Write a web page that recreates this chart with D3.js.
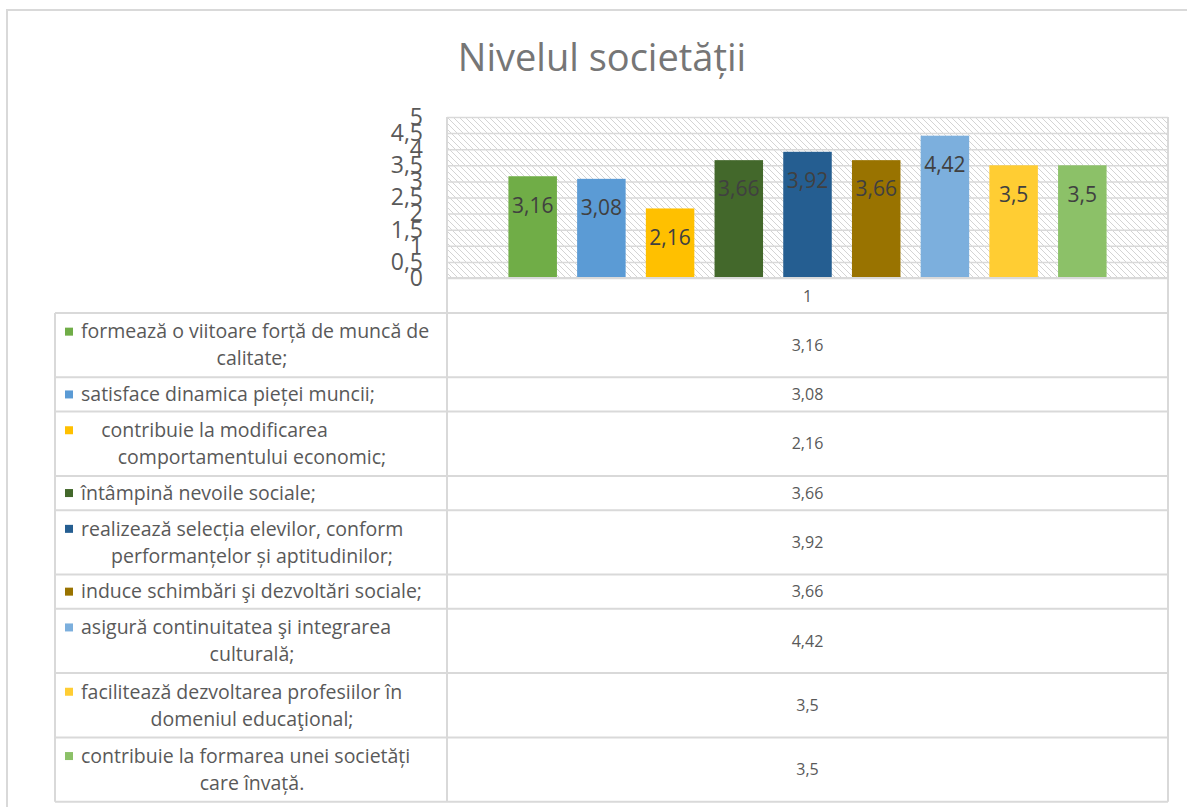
<!DOCTYPE html>
<html>
<head>
<meta charset="utf-8">
<script src="https://cdn.jsdelivr.net/npm/d3@7"></script>
<style>
  body { margin: 0; background: #fff; }
  text { font-family: "Open Sans", "Noto Sans", sans-serif; }
</style>
</head>
<body>
<div id="chart-container"></div>
<script>
// Category labels (line breaks as in the data table)
const categories = [
  "formează o viitoare forță de muncă de\ncalitate;",
  "satisface dinamica pieței muncii;",
  "    contribuie la modificarea\ncomportamentului economic;",
  "întâmpină nevoile sociale;",
  "realizează selecția elevilor, conform\nperformanțelor și aptitudinilor;",
  "induce schimbări şi dezvoltări sociale;",
  "asigură continuitatea şi integrarea\nculturală;",
  "facilitează dezvoltarea profesiilor în\ndomeniul educaţional;",
  "contribuie la formarea unei societăți\ncare învață."
];
const values = [3.16, 3.08, 2.16, 3.66, 3.92, 3.66, 4.42, 3.5, 3.5];
const colors = ["#70ad47", "#5b9bd5", "#ffc000", "#43682b", "#255e91",
                "#997300", "#7cafdd", "#ffcd33", "#8cc168"];
const yTicks = [0, 0.5, 1, 1.5, 2, 2.5, 3, 3.5, 4, 4.5, 5];
const xLabel = "1";
const title = "Nivelul societății";

function init() {
  const W = 1187, H = 807;
  const plot = { left: 447, right: 1168, top: 117, bottom: 278 };
  const tableLeft = 55;
  const headerBottom = 313;
  const fmt = d => String(d).replace(".", ",");

  const svg = d3.select("#chart-container")
    .append("svg")
      .attr("width", W)
      .attr("height", H);

  // hatch pattern for plot area
  const defs = svg.append("defs");
  defs.append("pattern")
      .attr("id", "hatch")
      .attr("patternUnits", "userSpaceOnUse")
      .attr("width", 6)
      .attr("height", 6)
    .append("path")
      .attr("d", "M0,0L6,6M-1,5L1,7M5,-1L7,1")
      .attr("stroke", "#d4d4d4")
      .attr("stroke-width", 1);

  // outer chart border
  svg.append("rect")
    .attr("x", 7).attr("y", 10)
    .attr("width", 1200).attr("height", 820)
    .attr("fill", "none")
    .attr("stroke", "#d9d9d9")
    .attr("stroke-width", 2);

  // title
  svg.append("text")
    .attr("x", 602).attr("y", 71)
    .attr("text-anchor", "middle")
    .attr("font-size", "38px")
    .attr("fill", "#767676")
    .text(title);

  const xScale = d3.scaleBand()
    .domain(d3.range(values.length))
    .range([plot.left, plot.right])
    .paddingInner(0.294)
    .paddingOuter(0.894);

  const yScale = d3.scaleLinear()
    .domain([0, 5])
    .range([plot.bottom, plot.top]);

  // plot background
  svg.append("rect")
    .attr("x", plot.left).attr("y", plot.top)
    .attr("width", plot.right - plot.left)
    .attr("height", plot.bottom - plot.top)
    .attr("fill", "url(#hatch)");

  // gridlines
  svg.append("g")
    .attr("transform", `translate(${plot.left},0)`)
    .call(d3.axisLeft(yScale).tickValues(yTicks).tickSize(-(plot.right - plot.left)).tickFormat(""))
    .call(g => g.select(".domain").remove())
    .call(g => g.selectAll("line").attr("stroke", "#d9d9d9").attr("stroke-width", 1.5));

  // y axis labels (they overlap in the original too)
  svg.append("g")
    .attr("transform", `translate(${plot.left - 24},0)`)
    .call(d3.axisLeft(yScale).tickValues(yTicks).tickSize(0).tickFormat(fmt))
    .call(g => g.select(".domain").remove())
    .call(g => g.selectAll("text")
      .attr("x", 0)
      .attr("font-family", "'Open Sans', sans-serif")
      .attr("font-size", "23px")
      .attr("fill", "#595959"));

  // bars
  svg.selectAll(".bar")
    .data(values)
    .enter()
    .append("rect")
      .attr("class", "bar")
      .attr("x", (d, i) => xScale(i))
      .attr("y", d => yScale(d))
      .attr("width", xScale.bandwidth())
      .attr("height", d => plot.bottom - yScale(d))
      .attr("fill", (d, i) => colors[i]);

  // bar labels
  svg.selectAll(".bar-label")
    .data(values)
    .enter()
    .append("text")
      .attr("class", "bar-label")
      .attr("x", (d, i) => xScale(i) + xScale.bandwidth() / 2)
      .attr("y", d => yScale(d) + 29)
      .attr("dy", "0.35em")
      .attr("text-anchor", "middle")
      .attr("font-size", "21px")
      .attr("fill", "#404040")
      .text(fmt);

  // data table
  const lineColor = "#d9d9d9";
  const rowH = categories.map(c => c.split("\n").length > 1 ? 64.3 : 34.3);
  const rowTop = [];
  rowH.reduce((acc, h) => { rowTop.push(acc); return acc + h; }, headerBottom);
  const tableBottom = rowTop[rowTop.length - 1] + rowH[rowH.length - 1];

  const grid = svg.append("g")
    .attr("stroke", lineColor)
    .attr("stroke-width", 2);

  // vertical lines
  grid.append("line").attr("x1", plot.left).attr("x2", plot.left).attr("y1", plot.top).attr("y2", tableBottom);
  grid.append("line").attr("x1", plot.right).attr("x2", plot.right).attr("y1", plot.top).attr("y2", tableBottom);
  grid.append("line").attr("x1", tableLeft).attr("x2", tableLeft).attr("y1", headerBottom).attr("y2", tableBottom);
  // horizontal lines
  grid.append("line").attr("x1", plot.left).attr("x2", plot.right).attr("y1", plot.bottom).attr("y2", plot.bottom);
  grid.selectAll(".hline")
    .data(rowTop.concat([tableBottom]))
    .enter()
    .append("line")
      .attr("class", "hline")
      .attr("x1", tableLeft).attr("x2", plot.right)
      .attr("y1", d => d).attr("y2", d => d);

  // header "1"
  svg.append("text")
    .attr("x", (plot.left + plot.right) / 2)
    .attr("y", (plot.bottom + headerBottom) / 2 + 1)
    .attr("dy", "0.35em")
    .attr("text-anchor", "middle")
    .attr("font-size", "16px")
    .attr("fill", "#595959")
    .text(xLabel);

  const cellCenter = (tableLeft + plot.left) / 2 + 1;
  const lineGap = 27;

  categories.forEach((cat, i) => {
    const lines = cat.split("\n");
    const mid = rowTop[i] + rowH[i] / 2;
    const y0 = mid - (lines.length - 1) * lineGap / 2;

    svg.append("rect")
      .attr("x", 65).attr("y", y0 - 4)
      .attr("width", 8).attr("height", 8)
      .attr("fill", colors[i]);

    lines.forEach((ln, j) => {
      svg.append("text")
        .attr("x", j === 0 ? 81 : cellCenter)
        .attr("y", y0 + j * lineGap)
        .attr("dy", "0.35em")
        .attr("text-anchor", j === 0 ? "start" : "middle")
        .attr("font-size", "19.5px")
        .attr("fill", "#595959")
        .style("white-space", "pre")
        .text(ln);
    });

    svg.append("text")
      .attr("x", (plot.left + plot.right) / 2)
      .attr("y", mid)
      .attr("dy", "0.35em")
      .attr("text-anchor", "middle")
      .attr("font-size", "16px")
      .attr("fill", "#595959")
      .text(fmt(values[i]));
  });
}

window.onload = init;
</script>
</body>
</html>
